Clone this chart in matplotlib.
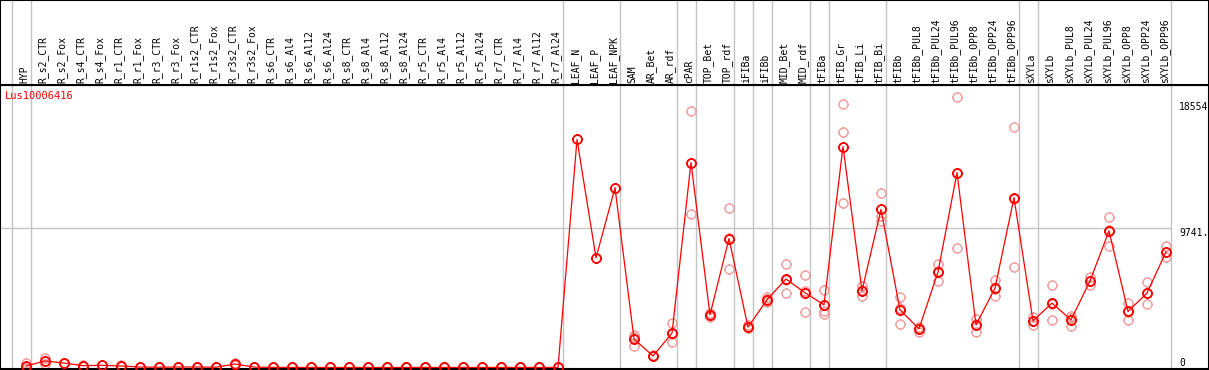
import numpy as np
import matplotlib
matplotlib.use("Agg")
import matplotlib.pyplot as plt
from matplotlib.path import Path
from matplotlib import transforms

# ---------------- data ----------------
categories = [
    "HYP", "R_s2_CTR", "R_s2_Fox", "R_s4_CTR", "R_s4_Fox", "R_r1_CTR", "R_r1_Fox",
    "R_r3_CTR", "R_r3_Fox", "R_r1s2_CTR", "R_r1s2_Fox", "R_r3s2_CTR", "R_r3s2_Fox",
    "R_s6_CTR", "R_s6_Al4", "R_s6_Al12", "R_s6_Al24", "R_s8_CTR", "R_s8_Al4",
    "R_s8_Al12", "R_s8_Al24", "R_r5_CTR", "R_r5_Al4", "R_r5_Al12", "R_r5_Al24",
    "R_r7_CTR", "R_r7_Al4", "R_r7_Al12", "R_r7_Al24", "LEAF_N", "LEAF_P", "LEAF_NPK",
    "SAM", "AR_Bet", "AR_rdf", "cPAR", "TOP_Bet", "TOP_rdf", "iFIBa", "iFIBb",
    "MID_Bet", "MID_rdf", "tFIBa", "tFIB_Gr", "tFIB_Li", "tFIB_Bi", "tFIBb",
    "tFIBb_PUL8", "tFIBb_PUL24", "tFIBb_PUL96", "tFIBb_OPP8", "tFIBb_OPP24",
    "tFIBb_OPP96", "sXYLa", "sXYLb", "sXYLb_PUL8", "sXYLb_PUL24", "sXYLb_PUL96",
    "sXYLb_OPP8", "sXYLb_OPP24", "sXYLb_OPP96",
]

mean_values = [
    105, 455, 315, 126, 154, 105, 30, 20, 35, 35, 20, 245, 30,
    5, 3, 3, 3, 3, 3, 3, 3, 3, 3, 3, 3, 3, 3, 3, 3,
    15922, 7653, 12558,
    1997, 806, 2397, 14310, 3679, 9005, 2817, 4730, 6181, 5221,
    4380, 15431, 5361, 11038, 4030, 2698, 6671, 13609, 2978, 5550, 11857,
    3259, 4499, 3329, 6041, 9545, 3911, 5200, 8073,
]

rep1 = [
    330, 645, 340, 160, 180, 140, 40, 25, 40, 40, 25, 300, 40,
    5, 3, 3, 3, 3, 3, 3, 3, 3, 3, 3, 3, 3, 3, 3, 3,
    np.nan, np.nan, np.nan,
    2277, 850, 3097, 17884, 3800, 11108, 2950, 4541, 7253, 6461,
    5431, 18396, 5711, 12208, 4920, 2859, 7253, 18866, 3399, 6132, 16763,
    3560, 5761, 3609, 6321, 10526, 4499, 5971, 8466,
]
rep2 = [
    20, 245, 300, 100, 140, 90, 25, 15, 30, 30, 15, 200, 25,
    5, 3, 3, 3, 3, 3, 3, 3, 3, 3, 3, 3, 3, 3, 3, 3,
    np.nan, np.nan, np.nan,
    2100, 790, 1766, 10736, 3700, 6882, 2750, 4900, 5200, 3889,
    3960, 16413, 4962, 10568, 3027, 2467, 6041, 8354, 2509, 5011, 7022,
    2978, 3329, 2929, 5782, 8515, 3329, 4429, 7695,
]
rep3 = [
    0, 470, 305, 120, 140, 85, 25, 20, 35, 35, 20, 235, 25,
    5, 3, 3, 3, 3, 3, 3, 3, 3, 3, 3, 3, 3, 3, 3, 3,
    np.nan, np.nan, np.nan,
    1530, 780, 2330, 14310, 3540, 9025, 2750, 4750, 6090, 5313,
    3728, 11507, 5410, 10218, 4143, 2770, 6719, 13607, 3026, 5507, 11786,
    3240, 4407, 3449, 6020, 9594, 3905, 5200, 8058,
]

group_end_index = [-1, 0, 28, 31, 34, 35, 37, 38, 39, 41, 42, 45, 52, 53, 60]
gene_name = "Lus10006416"
axis_labels = [("18554", 18554, "top"), ("9741.", 9741.5, "top"), ("0", 0, "bottom")]
mid_value = 9741.5

# ---------------- figure ----------------
W, H = 1209, 370
fig = plt.figure(figsize=(W / 100, H / 100), dpi=100)
fig.patch.set_facecolor("white")

mono = "DejaVu Sans Mono"
red = "#ff0000"
light = "#f09a9a"
grid = "#c4c4c4"

ax = fig.add_axes([0, 1 / H, 1, 284 / H])
hdr = fig.add_axes([0, 285 / H, 1, 85 / H])
for a in (ax, hdr):
    a.set_xticks([])
    a.set_yticks([])
    for s in a.spines.values():
        s.set_color("black")
        s.set_linewidth(1.5)

units_per_px = 9741.5 / 139.5
ax.set_ylim(-1.5 * units_per_px, (284 - 1.5) * units_per_px)
xlim = (-26 / 19, (W - 26) / 19)
ax.set_xlim(*xlim)
hdr.set_xlim(*xlim)
hdr.set_ylim(0, 1)

x = np.arange(len(categories))
gx = np.array(group_end_index) + 0.24

for g in gx:
    ax.axvline(g, color=grid, lw=1.0, zorder=0)
    hdr.axvline(g, color=grid, lw=1.0, zorder=0)
ax.hlines(mid_value, xlim[0], gx[-1], color=grid, lw=1.0, zorder=0)

# custom marker: circle with tiny nubs
circ = Path.unit_circle()
verts = list(circ.vertices)
codes = list(circ.codes)
for ang in (0, 90, 180, 270):
    t = np.deg2rad(ang)
    verts += [(np.cos(t) * 1.0, np.sin(t) * 1.0), (np.cos(t) * 1.18, np.sin(t) * 1.18)]
    codes += [Path.MOVETO, Path.LINETO]
tick_circle = Path(verts, codes)

for rep in (rep1, rep2, rep3):
    ax.plot(x, rep, linestyle="none", marker=tick_circle, markersize=7.6,
            markerfacecolor="none", markeredgecolor=light, markeredgewidth=1.0,
            zorder=2, clip_on=False)

ax.plot(x, mean_values, color=red, lw=0.9, zorder=3, clip_on=False)
ax.plot(x, mean_values, linestyle="none", marker=tick_circle, markersize=7.6,
        markerfacecolor="none", markeredgecolor=red, markeredgewidth=1.3,
        zorder=4, clip_on=False)

for txt, val, va in axis_labels:
    ax.text((1179 - 26) / 19, val, txt, ha="left", va=va, fontsize=7,
            family=mono, color="black")

fig.text(5 / W, 1 - 91 / H, gene_name, ha="left", va="top", fontsize=7.5,
         family=mono, color=red)

trans = transforms.blended_transform_factory(hdr.transData, hdr.transAxes)
for i, name in enumerate(categories):
    hdr.text(i - 0.1, 2 / 85, name, rotation=90, ha="center", va="bottom",
             fontsize=7, family=mono, color="black", transform=trans)

fig.savefig("out.png", dpi=100, facecolor="white")
